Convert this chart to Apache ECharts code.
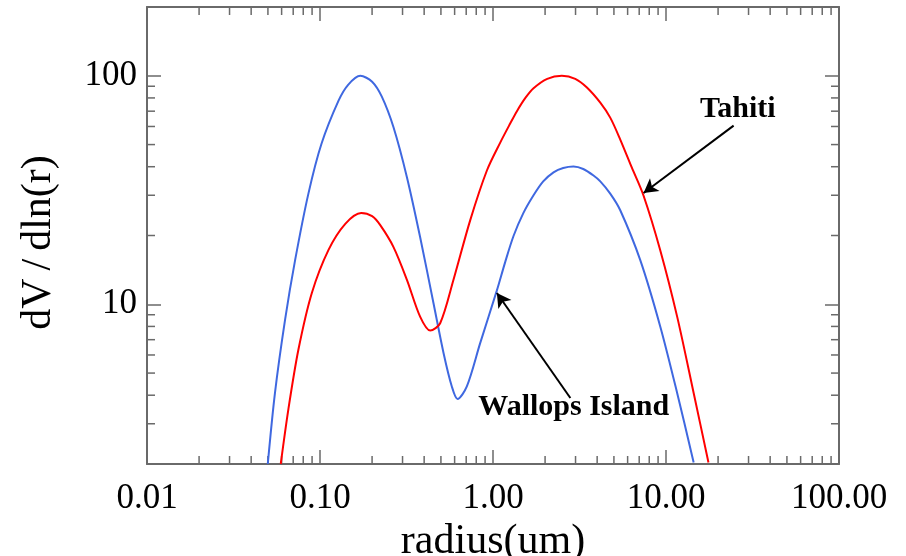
<!DOCTYPE html>
<html>
<head>
<meta charset="utf-8">
<script src="https://cdn.jsdelivr.net/npm/echarts@6/dist/echarts.min.js"></script>
<style>html,body{margin:0;padding:0;background:#fff;}#chart{width:906px;height:556px;}</style>
</head>
<body>
<div id="chart"></div>
<script>
// Wallops Island (blue)
const radiusWallops = [0.0499, 0.0549, 0.0628, 0.0718, 0.0857, 0.102, 0.128, 0.1454, 0.171, 0.2001, 0.2277, 0.266, 0.318, 0.379, 0.453, 0.518, 0.578, 0.624, 0.706, 0.843, 1.053, 1.176, 1.314, 1.495, 1.715, 1.951, 2.238, 2.547, 2.92, 3.324, 3.81, 4.17, 4.76, 5.44, 7.10, 9.27, 11.6, 14.45];
const dvWallops     = [2.0, 4.09, 8.55, 15.6, 30.5, 50.4, 77.8, 91.3, 100, 94.2, 81.0, 59.5, 36.0, 19.7, 10.1, 6.11, 4.37, 3.85, 4.37, 6.76, 11.5, 15.3, 19.9, 25.0, 30.0, 34.5, 37.8, 39.5, 40.1, 39.1, 36.6, 34.5, 30.5, 25.8, 15.6, 7.98, 4.09, 2.03];
// Tahiti (red)
const radiusTahiti = [0.0593, 0.0656, 0.075, 0.0897, 0.112, 0.140, 0.173, 0.2001, 0.223, 0.266, 0.318, 0.379, 0.434, 0.495, 0.591, 0.738, 0.922, 1.101, 1.257, 1.375, 1.535, 1.715, 2.058, 2.50, 2.988, 3.49, 4.17, 4.76, 5.44, 6.34, 7.42, 9.27, 11.6, 14.45, 17.6];
const dvTahiti     = [2.0, 3.46, 6.32, 11.2, 17.3, 22.5, 25.1, 24.3, 22.2, 17.8, 12.8, 8.83, 7.67, 8.26, 12.8, 23.3, 38.5, 51.0, 61.8, 70.0, 79.8, 88.2, 97.0, 100, 97.0, 88.9, 76.3, 65.6, 52.6, 39.7, 29.85, 17.2, 8.83, 4.09, 2.03];

const xTickValues = [0.01, 0.1, 1, 10, 100];
const xTickLabels = ['0.01', '0.10', '1.00', '10.00', '100.00'];
const yTickValues = [10, 100];
const yTickLabels = ['10', '100'];
const xMin = 0.01, xMax = 100, yMin = 2, yMax = 200;

// minor tick positions (log decades)
const xMinorTicks = [];
for (let e = -2; e < 2; e++) for (let m = 2; m <= 9; m++) xMinorTicks.push(+(m * Math.pow(10, e)).toPrecision(3));
const yMinorTicks = [3, 4, 5, 6, 7, 8, 9, 20, 30, 40, 50, 60, 70, 80, 90];

// annotations: [label, textX, textY, arrowFromX, arrowFromY, arrowToX, arrowToY]
const annTahiti = ['Tahiti', 26.0, 71.1, 24.6, 60.5, 7.42, 30.7];
const annWallops = ['Wallops Island', 2.93, 3.53, 2.80, 3.89, 1.053, 11.2];

const zip = (a, b) => a.map((v, i) => [v, b[i]]);
const findLabel = (vals, labs, v) => {
  for (let i = 0; i < vals.length; i++) if (Math.abs(Math.log10(v) - Math.log10(vals[i])) < 1e-6) return labs[i];
  return '';
};

const FONT = '"Liberation Serif", "Times New Roman", serif';
const AXC = '#6a6a6a';

function axisCommon() {
  return {
    axisLine: { show: true, lineStyle: { color: AXC, width: 2 } },
    axisTick: { show: true, inside: true, length: 14, lineStyle: { color: AXC, width: 1.5 } },
    splitLine: { show: false },
    minorTick: { show: false }
  };
}

const chart = echarts.init(document.getElementById('chart'), null, { renderer: 'canvas' });

const option = {
  animation: false,
  backgroundColor: '#ffffff',
  grid: { left: 147, right: 67, top: 7, bottom: 92, containLabel: false, outerBoundsMode: 'none' },
  xAxis: [
    Object.assign({
      type: 'log', logBase: 10, min: xMin, max: xMax, position: 'bottom',
      name: 'radius(um)', nameLocation: 'middle', nameGap: 49,
      nameTextStyle: { fontFamily: FONT, fontSize: 42, color: '#000' },
      axisLabel: { fontFamily: FONT, fontSize: 35, color: '#000', margin: 17,
        formatter: v => findLabel(xTickValues, xTickLabels, v) }
    }, axisCommon()),
    Object.assign({
      type: 'log', logBase: 10, min: xMin, max: xMax, position: 'top',
      axisLabel: { show: false }
    }, axisCommon())
  ],
  yAxis: [
    Object.assign({
      type: 'log', logBase: 10, min: yMin, max: yMax, position: 'left',
      name: '{a|dV}{s|/}{a|dln(r)}', nameLocation: 'middle', nameGap: 87,
      nameTextStyle: { fontFamily: FONT, fontSize: 42, color: '#000', padding: [0, 14, 0, 0],
        rich: {
          a: { fontFamily: FONT, fontSize: 42, color: '#000' },
          s: { fontFamily: FONT, fontSize: 42, color: '#000', padding: [0, 8, 0, 8] }
        } },
      axisLabel: { fontFamily: FONT, fontSize: 35, color: '#000', margin: 10,
        showMinLabel: false, showMaxLabel: false,
        formatter: v => findLabel(yTickValues, yTickLabels, v) }
    }, axisCommon()),
    Object.assign({
      type: 'log', logBase: 10, min: yMin, max: yMax, position: 'right',
      axisLabel: { show: false }
    }, axisCommon())
  ],
  series: [
    {
      name: 'Wallops Island', type: 'line', xAxisIndex: 0, yAxisIndex: 0,
      data: zip(radiusWallops, dvWallops), smooth: 0.3, showSymbol: false, symbol: 'none',
      lineStyle: { color: '#3f68e0', width: 2 }, z: 3,
      markLine: {
        silent: true, symbol: ['none', 'arrow'], symbolSize: [12, 14],
        label: { show: false }, lineStyle: { color: '#000', width: 2, type: 'solid' },
        data: [[{ coord: [annWallops[3], annWallops[4]] }, { coord: [annWallops[5], annWallops[6]] }]]
      },
      markPoint: {
        silent: true, symbol: 'circle', symbolSize: 0,
        label: { show: true, position: 'inside', formatter: annWallops[0], fontFamily: FONT, fontSize: 30, fontWeight: 'bold', color: '#000' },
        data: [{ coord: [annWallops[1], annWallops[2]] }]
      }
    },
    {
      name: 'Tahiti', type: 'line', xAxisIndex: 0, yAxisIndex: 0,
      data: zip(radiusTahiti, dvTahiti), smooth: 0.3, showSymbol: false, symbol: 'none',
      lineStyle: { color: '#ff0000', width: 2 }, z: 3,
      markLine: {
        silent: true, symbol: ['none', 'arrow'], symbolSize: [12, 14],
        label: { show: false }, lineStyle: { color: '#000', width: 2, type: 'solid' },
        data: [[{ coord: [annTahiti[3], annTahiti[4]] }, { coord: [annTahiti[5], annTahiti[6]] }]]
      },
      markPoint: {
        silent: true, symbol: 'circle', symbolSize: 0,
        label: { show: true, position: 'inside', formatter: annTahiti[0], fontFamily: FONT, fontSize: 30, fontWeight: 'bold', color: '#000' },
        data: [{ coord: [annTahiti[1], annTahiti[2]] }]
      }
    },
    {
      type: 'custom', silent: true, xAxisIndex: 0, yAxisIndex: 0, z: 1, clip: false,
      data: xMinorTicks.map(v => [v, yMin]),
      encode: { x: 0, y: 1 },
      renderItem: (params, api) => {
        const cs = params.coordSys;
        const p = api.coord([api.value(0), yMin]);
        const st = { stroke: AXC, lineWidth: 1.5 };
        return { type: 'group', children: [
          { type: 'line', shape: { x1: p[0], y1: cs.y + cs.height, x2: p[0], y2: cs.y + cs.height - 8 }, style: st },
          { type: 'line', shape: { x1: p[0], y1: cs.y, x2: p[0], y2: cs.y + 8 }, style: st }
        ] };
      }
    },
    {
      type: 'custom', silent: true, xAxisIndex: 0, yAxisIndex: 0, z: 1, clip: false,
      data: yMinorTicks.map(v => [xMin, v]),
      encode: { x: 0, y: 1 },
      renderItem: (params, api) => {
        const cs = params.coordSys;
        const p = api.coord([xMin, api.value(1)]);
        const st = { stroke: AXC, lineWidth: 1.5 };
        return { type: 'group', children: [
          { type: 'line', shape: { x1: cs.x, y1: p[1], x2: cs.x + 8, y2: p[1] }, style: st },
          { type: 'line', shape: { x1: cs.x + cs.width, y1: p[1], x2: cs.x + cs.width - 8, y2: p[1] }, style: st }
        ] };
      }
    }
  ]
};
chart.setOption(option);
</script>
</body>
</html>
